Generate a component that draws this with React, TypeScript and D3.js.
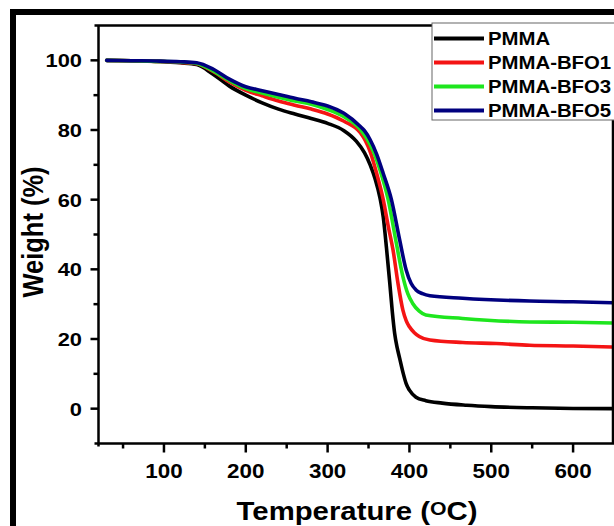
import * as d3 from 'd3';
import React, { useEffect, useRef } from 'react';

// temperatures (°C) and weights (%)
const pmmaT = [30, 60, 90, 120, 140, 160, 180, 200, 220, 240, 260, 280, 300, 320, 335, 345, 352, 358, 364, 368, 372, 376, 379, 382, 385, 388, 392, 396, 400, 408, 420, 440, 470, 500, 550, 600, 648];
const pmmaW = [100, 99.9, 99.7, 99.3, 98.8, 96.0, 92.6, 90.0, 87.8, 86.0, 84.6, 83.3, 81.9, 79.8, 76.8, 73.5, 70, 66, 60.5, 55, 46, 36, 28, 21.5, 17.5, 14.5, 10.5, 7.2, 5.3, 3.3, 2.3, 1.6, 1.0, 0.6, 0.25, 0.05, 0];

const bfo1T = [30, 60, 90, 120, 140, 160, 180, 200, 220, 240, 260, 280, 300, 320, 340, 346, 352, 360, 368, 374, 380, 386, 392, 396, 400, 406, 412, 425, 465, 506, 547, 600, 648];
const bfo1W = [100, 99.9, 99.7, 99.4, 99.0, 96.8, 93.8, 91.4, 89.8, 88.3, 87.1, 86.0, 84.6, 82.5, 79.2, 77.0, 73.8, 67.5, 60, 52.5, 45.5, 36, 28.3, 25.3, 23.5, 21.8, 20.7, 19.7, 19.0, 18.7, 18.2, 18.0, 17.7];

const bfo3T = [30, 60, 90, 120, 140, 160, 180, 200, 220, 240, 260, 280, 300, 320, 340, 348, 356, 364, 374, 384, 392, 398, 404, 412, 420, 465, 547, 600, 648];
const bfo3W = [100, 99.9, 99.7, 99.5, 99.1, 97.0, 94.2, 91.9, 90.6, 89.4, 88.3, 87.4, 85.9, 83.8, 80.2, 77.5, 73.8, 68.5, 60, 47.5, 37.9, 33, 30.2, 28.0, 26.9, 25.9, 24.9, 24.8, 24.6];

const bfo5T = [30, 60, 90, 120, 140, 160, 180, 200, 220, 240, 260, 280, 300, 320, 340, 345, 352, 360, 368, 378, 388, 396, 402, 408, 416, 425, 465, 547, 600, 648];
const bfo5W = [100, 99.9, 99.8, 99.6, 99.3, 97.5, 94.6, 92.4, 91.3, 90.2, 89.1, 88.1, 86.9, 84.8, 81.0, 79.8, 77.2, 73.0, 67.5, 60, 48.5, 39.8, 36, 34.1, 33.0, 32.4, 31.7, 30.9, 30.7, 30.4];

const seriesNames = ['PMMA', 'PMMA-BFO1', 'PMMA-BFO3', 'PMMA-BFO5'];
const seriesColors = ['#000000', '#f41414', '#1ee61e', '#00007f'];
const seriesT = [pmmaT, bfo1T, bfo3T, bfo5T];
const seriesW = [pmmaW, bfo1W, bfo3W, bfo5W];

const xTicks = [100, 200, 300, 400, 500, 600];
const xMinor = [50, 150, 250, 350, 450, 550];
const yTicks = [0, 20, 40, 60, 80, 100];
const yMinor = [10, 30, 50, 70, 90];

export default function App() {
  const svgRef = useRef(null);
  const width = 614;
  const height = 526;

  useEffect(() => {
    const svg = d3.select(svgRef.current);
    svg.selectAll('*').remove();

    const font = '"Liberation Sans", Arial, sans-serif';
    const stretch = 1.15;

    const x = d3.scaleLinear().domain([20, 650]).range([98.5, 614]);
    const y = d3.scaleLinear().domain([-10, 110]).range([443.5, 25.5]);

    // outer frame
    svg.append('rect')
      .attr('x', 13).attr('y', 12)
      .attr('width', 700).attr('height', 600)
      .attr('fill', 'white')
      .attr('stroke', 'black')
      .attr('stroke-width', 6);

    const plot = svg.append('g');

    // curves
    const line = d3.line()
      .x(d => x(d[0]))
      .y(d => y(d[1]))
      .curve(d3.curveMonotoneX);

    seriesNames.forEach((name, i) => {
      const pts = seriesT[i].map((t, j) => [t, seriesW[i][j]]);
      plot.append('path')
        .datum(pts)
        .attr('d', line)
        .attr('fill', 'none')
        .attr('stroke', seriesColors[i])
        .attr('stroke-width', 3.6)
        .attr('stroke-linejoin', 'round')
        .attr('stroke-linecap', 'round');
    });

    // axes box
    const [x0, x1] = x.range();
    const [y0, y1] = y.range();
    plot.append('path')
      .attr('d', `M${x0 - 4},${y1}H${x1 + 2}M${x0},${y1 - 1}V${y0 + 3}M${x0 - 4},${y0}H${x1 + 2}M${x1 - 1},${y1}V${y0}`)
      .attr('stroke', 'black')
      .attr('stroke-width', 2.5)
      .attr('fill', 'none');

    // x ticks
    xTicks.forEach(t => {
      plot.append('line')
        .attr('x1', x(t)).attr('x2', x(t))
        .attr('y1', y0).attr('y2', y0 + 9)
        .attr('stroke', 'black').attr('stroke-width', 2.5);
      plot.append('text')
        .attr('transform', `translate(${x(t)},477.5) scale(${stretch},1)`)
        .attr('text-anchor', 'middle')
        .style('font-family', font)
        .style('font-weight', 'bold')
        .style('font-size', '19.5px')
        .text(t);
    });
    xMinor.forEach(t => {
      plot.append('line')
        .attr('x1', x(t)).attr('x2', x(t))
        .attr('y1', y0).attr('y2', y0 + 5)
        .attr('stroke', 'black').attr('stroke-width', 2.5);
    });

    // y ticks
    yTicks.forEach(t => {
      plot.append('line')
        .attr('x1', x0 - 8).attr('x2', x0)
        .attr('y1', y(t)).attr('y2', y(t))
        .attr('stroke', 'black').attr('stroke-width', 2.5);
      plot.append('text')
        .attr('transform', `translate(82,${y(t) + 7}) scale(${stretch},1)`)
        .attr('text-anchor', 'end')
        .style('font-family', font)
        .style('font-weight', 'bold')
        .style('font-size', '19px')
        .text(t);
    });
    yMinor.forEach(t => {
      plot.append('line')
        .attr('x1', x0 - 5).attr('x2', x0)
        .attr('y1', y(t)).attr('y2', y(t))
        .attr('stroke', 'black').attr('stroke-width', 2.5);
    });

    // axis titles
    const xt = svg.append('text')
      .attr('transform', `translate(357,520) scale(${stretch},1)`)
      .attr('text-anchor', 'middle')
      .style('font-family', font)
      .style('font-weight', 'bold')
      .style('font-size', '25.5px');
    xt.append('tspan').text('Temperature (');
    xt.append('tspan').attr('dy', -5).style('font-size', '18.5px').text('O');
    xt.append('tspan').attr('dy', 5).text('C)');

    svg.append('text')
      .attr('transform', `translate(43,232) scale(${stretch},1) rotate(-90)`)
      .attr('text-anchor', 'middle')
      .style('font-family', font)
      .style('font-weight', 'bold')
      .style('font-size', '25.5px')
      .text('Weight (%)');

    // legend
    const legend = svg.append('g');
    legend.append('rect')
      .attr('x', 432).attr('y', 23)
      .attr('width', 200).attr('height', 97)
      .attr('fill', 'white')
      .attr('stroke', '#666')
      .attr('stroke-width', 1);

    seriesNames.forEach((name, i) => {
      const ly = 38.5 + i * 24;
      legend.append('line')
        .attr('x1', 434).attr('x2', 484)
        .attr('y1', ly).attr('y2', ly)
        .attr('stroke', seriesColors[i])
        .attr('stroke-width', 4);
      legend.append('text')
        .attr('transform', `translate(488,${ly + 6.5}) scale(${stretch},1)`)
        .style('font-family', font)
        .style('font-weight', 'bold')
        .style('font-size', '17.7px')
        .text(name);
    });
  }, []);

  return (
    <svg
      ref={svgRef}
      width={width}
      height={height}
      style={{ position: 'absolute', left: 0, top: 0, background: 'white' }}
    />
  );
}
